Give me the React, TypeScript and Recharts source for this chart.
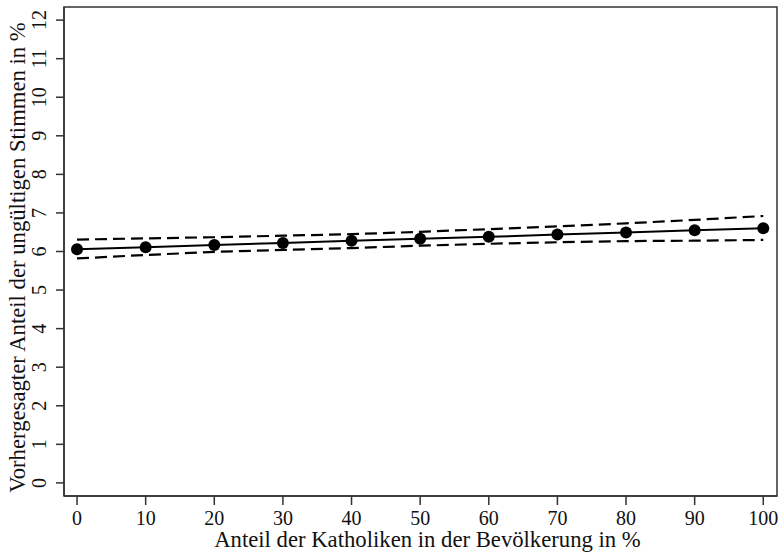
import React from 'react';
import { ComposedChart, Line, XAxis, YAxis, ReferenceArea } from 'recharts';

const xValues = [0, 10, 20, 30, 40, 50, 60, 70, 80, 90, 100];
const predicted = [6.06, 6.11, 6.17, 6.22, 6.28, 6.33, 6.38, 6.44, 6.49, 6.55, 6.6];
const upperCI = [6.31, 6.34, 6.37, 6.41, 6.45, 6.51, 6.58, 6.65, 6.73, 6.82, 6.92];
const lowerCI = [5.82, 5.91, 5.99, 6.04, 6.09, 6.15, 6.2, 6.24, 6.27, 6.28, 6.3];
const xTicks = [0, 10, 20, 30, 40, 50, 60, 70, 80, 90, 100];
const yTicks = [0, 1, 2, 3, 4, 5, 6, 7, 8, 9, 10, 11, 12];
const xTitle = 'Anteil der Katholiken in der Bevölkerung in %';
const yTitle = 'Vorhergesagter Anteil der ungültigen Stimmen in %';

const data = xValues.map((x, i) => ({
  x,
  pred: predicted[i],
  upper: upperCI[i],
  lower: lowerCI[i],
}));

const FONT = "'Liberation Serif', 'Times New Roman', serif";
const FRAME = '#333';
const X_DOMAIN: [number, number] = [-1.9, 102];
const Y_DOMAIN: [number, number] = [-0.34, 12.34];
const tickStyle: React.CSSProperties = { fontFamily: FONT, fontSize: 20 };
const titleStyle: React.CSSProperties = { fontFamily: FONT, fontSize: 22.7 };

const XTick = (props: any) => {
  const { x, y, payload } = props;
  return (
    <text x={x} y={y + 14} textAnchor="middle" style={tickStyle} fill="#111">
      {payload.value}
    </text>
  );
};

const YTick = (props: any) => {
  const { x, y, payload } = props;
  const bx = x - 8;
  return (
    <text
      x={bx}
      y={y}
      transform={`rotate(-90, ${bx}, ${y})`}
      textAnchor="middle"
      style={tickStyle}
      fill="#111"
    >
      {payload.value}
    </text>
  );
};

const XTitle = (props: any) => {
  const vb = props.viewBox;
  return (
    <text
      x={vb.x + vb.width / 2 + 7}
      y={vb.y + 51}
      textAnchor="middle"
      style={titleStyle}
      fill="#111"
    >
      {xTitle}
    </text>
  );
};

const YTitle = (props: any) => {
  const vb = props.viewBox;
  const cx = vb.x + 25;
  const cy = vb.y + vb.height / 2 + 6;
  return (
    <text
      x={cx}
      y={cy}
      transform={`rotate(-90, ${cx}, ${cy})`}
      textAnchor="middle"
      style={titleStyle}
      fill="#111"
    >
      {yTitle}
    </text>
  );
};

export default function App() {
  return (
    <div style={{ position: 'absolute', left: 0, top: 0, background: '#fff' }}>
      <ComposedChart
        width={781}
        height={554}
        data={data}
        margin={{ top: 7, right: 4, bottom: 0, left: 0 }}
      >
        <XAxis
          dataKey="x"
          type="number"
          domain={X_DOMAIN}
          ticks={xTicks}
          allowDataOverflow
          height={58}
          tickSize={9}
          tickMargin={6}
          axisLine={{ stroke: FRAME, strokeWidth: 1.5 }}
          tickLine={{ stroke: FRAME, strokeWidth: 1.5 }}
          tick={<XTick />}
          interval={0}
          label={<XTitle />}
        />
        <YAxis
          type="number"
          domain={Y_DOMAIN}
          ticks={yTicks}
          allowDataOverflow
          width={64}
          tickSize={8}
          tickMargin={2}
          axisLine={{ stroke: FRAME, strokeWidth: 1.5 }}
          tickLine={{ stroke: FRAME, strokeWidth: 1.5 }}
          tick={<YTick />}
          interval={0}
          label={<YTitle />}
        />
        <ReferenceArea
          x1={X_DOMAIN[0]}
          x2={X_DOMAIN[1]}
          y1={Y_DOMAIN[0]}
          y2={Y_DOMAIN[1]}
          fill="none"
          stroke={FRAME}
          strokeWidth={1.5}
          ifOverflow="visible"
        />
        <Line
          dataKey="upper"
          stroke="#000"
          strokeWidth={2.2}
          strokeDasharray="12 6"
          dot={false}
          isAnimationActive={false}
          type="linear"
        />
        <Line
          dataKey="lower"
          stroke="#000"
          strokeWidth={2.2}
          strokeDasharray="12 6"
          dot={false}
          isAnimationActive={false}
          type="linear"
        />
        <Line
          dataKey="pred"
          stroke="#000"
          strokeWidth={2}
          dot={{ r: 6, fill: '#000', stroke: '#000', strokeWidth: 0 }}
          isAnimationActive={false}
          type="linear"
        />
      </ComposedChart>
    </div>
  );
}
